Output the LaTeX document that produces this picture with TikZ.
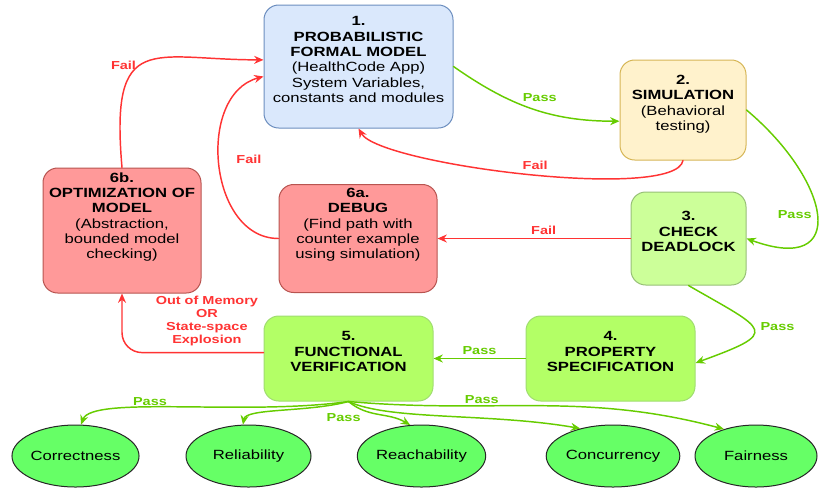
\documentclass[tikz,border=0pt]{standalone}
\usepackage{fontspec}
\setmainfont{Liberation Sans}[FakeStretch=1.25]
\usetikzlibrary{arrows.meta,shapes.geometric}
\definecolor{passc}{HTML}{66CC00}
\definecolor{failc}{HTML}{FF3333}
\definecolor{bluef}{HTML}{DAE8FC}
\definecolor{blued}{HTML}{6C8EBF}
\definecolor{yelf}{HTML}{FFF2CC}
\definecolor{yeld}{HTML}{D6B656}
\definecolor{palef}{HTML}{CCFF99}
\definecolor{paled}{HTML}{97C077}
\definecolor{limef}{HTML}{B3FF66}
\definecolor{limed}{HTML}{A0DD70}
\definecolor{redf}{HTML}{FF9999}
\definecolor{redd}{HTML}{B85450}
\definecolor{ovalf}{HTML}{66FF66}
\tikzset{
  box/.style={draw, rounded corners=11pt, line width=0.75pt, align=center, inner sep=2pt,
    font=\fontsize{10}{11.5}\selectfont},
  oval/.style={ellipse, draw=black!85, fill=ovalf, line width=0.75pt, inner sep=0pt,
    minimum width=93.75pt, minimum height=46.5pt, font=\fontsize{10}{11.5}\selectfont},
  pass/.style={draw=passc, line width=1.1pt, ->},
  fail/.style={draw=failc, line width=1.1pt, ->},
  passlbl/.style={text=passc, font=\fontsize{8.7}{9.8}\selectfont\bfseries, inner sep=1.5pt},
  faillbl/.style={text=failc, font=\fontsize{8.7}{9.8}\selectfont\bfseries, inner sep=1.5pt, align=center},
}
\begin{document}
\begin{tikzpicture}[x=0.75pt, y=0.75pt, >={Stealth[length=7pt,width=6pt]}, line join=round, line cap=round]
\useasboundingbox (0,0) rectangle (823,-490);
% steps
\node[box, fill=bluef, draw=blued, minimum width=141.75pt, minimum height=92.25pt] (model) at (358.5,-66.5)
  {\textbf{1.}\\\textbf{PROBABILISTIC}\\\textbf{FORMAL MODEL}\\(HealthCode App)\\System Variables,\\constants and modules\\[-1pt]};
\node[box, fill=yelf, draw=yeld, minimum width=94.5pt, minimum height=75pt] (sim) at (683,-110)
  {\textbf{2.}\\\textbf{SIMULATION}\\(Behavioral\\testing)\\[-1pt]};
\node[box, fill=palef, draw=paled, minimum width=86.25pt, minimum height=69.75pt] (dead) at (688.5,-238.5)
  {\textbf{3.}\\\textbf{CHECK}\\\textbf{DEADLOCK}\\[-1pt]};
\node[box, fill=limef, draw=limed, minimum width=126.75pt, minimum height=63.75pt] (prop) at (610.5,-358.5)
  {\textbf{4.}\\\textbf{PROPERTY}\\\textbf{SPECIFICATION}\\[-1pt]};
\node[box, fill=limef, draw=limed, minimum width=126.75pt, minimum height=63.75pt] (func) at (348.5,-358.5)
  {\textbf{5.}\\\textbf{FUNCTIONAL}\\\textbf{VERIFICATION}\\[-1pt]};
\node[box, fill=redf, draw=redd, minimum width=118.5pt, minimum height=81pt] (debug) at (358,-238.5)
  {\textbf{6a.}\\\textbf{DEBUG}\\(Find path with\\counter example\\using simulation)\\[11pt]};
\node[box, fill=redf, draw=redd, minimum width=118.5pt, minimum height=93.75pt] (opt) at (122,-230.5)
  {\textbf{6b.}\\\textbf{OPTIMIZATION OF}\\\textbf{MODEL}\\(Abstraction,\\bounded model\\checking)\\[11pt]};
% properties
\node[oval] (cor) at (75.5,-456) {Correctness};
\node[oval] (rel) at (248.5,-456) {Reliability};
\node[oval] (rea) at (421.5,-456) {Reachability};
\node[oval] (conc) at (613,-456) {Concurrency};
\node[oval, minimum width=91.5pt] (fair) at (756,-456) {Fairness};
% flow
\draw[pass] (model.east) to[out=-35, in=180] node[passlbl, pos=.55, above=5pt] {Pass} (sim.190);
\draw[fail] (sim.south) to[out=-100, in=-60, looseness=.33] node[faillbl, pos=.48, above=2pt] {Fail} (model.south);
\draw[pass] (sim.east) to[out=-40, in=-20, looseness=2.2] node[passlbl, pos=.5, left=2pt] {Pass} (dead.east);
\draw[fail] (dead.west) -- node[faillbl, pos=.45, above=1pt] {Fail} (debug.east);
\draw[fail] (debug.west) to[out=180, in=195, looseness=1.1] node[faillbl, pos=.52, right=11pt] {Fail} (model.186);
\draw[fail] (opt.north) to[out=95, in=180, out looseness=2, in looseness=1.6] node[faillbl, pos=.45, left=1pt] {Fail} (model.176);
\draw[fail, rounded corners=15pt] (func.176) -| node[faillbl, pos=.2, above=3pt] {Out of Memory\\OR\\State-space\\Explosion} (opt.south);
\draw[pass] (dead.south) to[out=-30, in=20, looseness=3] node[passlbl, pos=.45, right=4pt] {Pass} (prop.-3);
\draw[pass] (prop.west) -- node[passlbl, above=1pt] {Pass} (func.east);
% checks
\draw[pass] (func.south) to[out=188, in=70, in looseness=.3] node[passlbl, pos=.6, above] {Pass} (cor.80);
\draw[pass] (func.south) to[out=195, in=80, in looseness=.4] (rel.100);
\draw[pass] (func.south) to[out=-40, in=150] node[passlbl, pos=.25, below left=0pt] {Pass} (rea.110);
\draw[pass] (func.south) to[out=-25, in=170, out looseness=.5] (conc.140);
\draw[pass] (func.south) to[out=-5, in=165] node[passlbl, pos=.34, above] {Pass} (fair.140);
\end{tikzpicture}
\end{document}
